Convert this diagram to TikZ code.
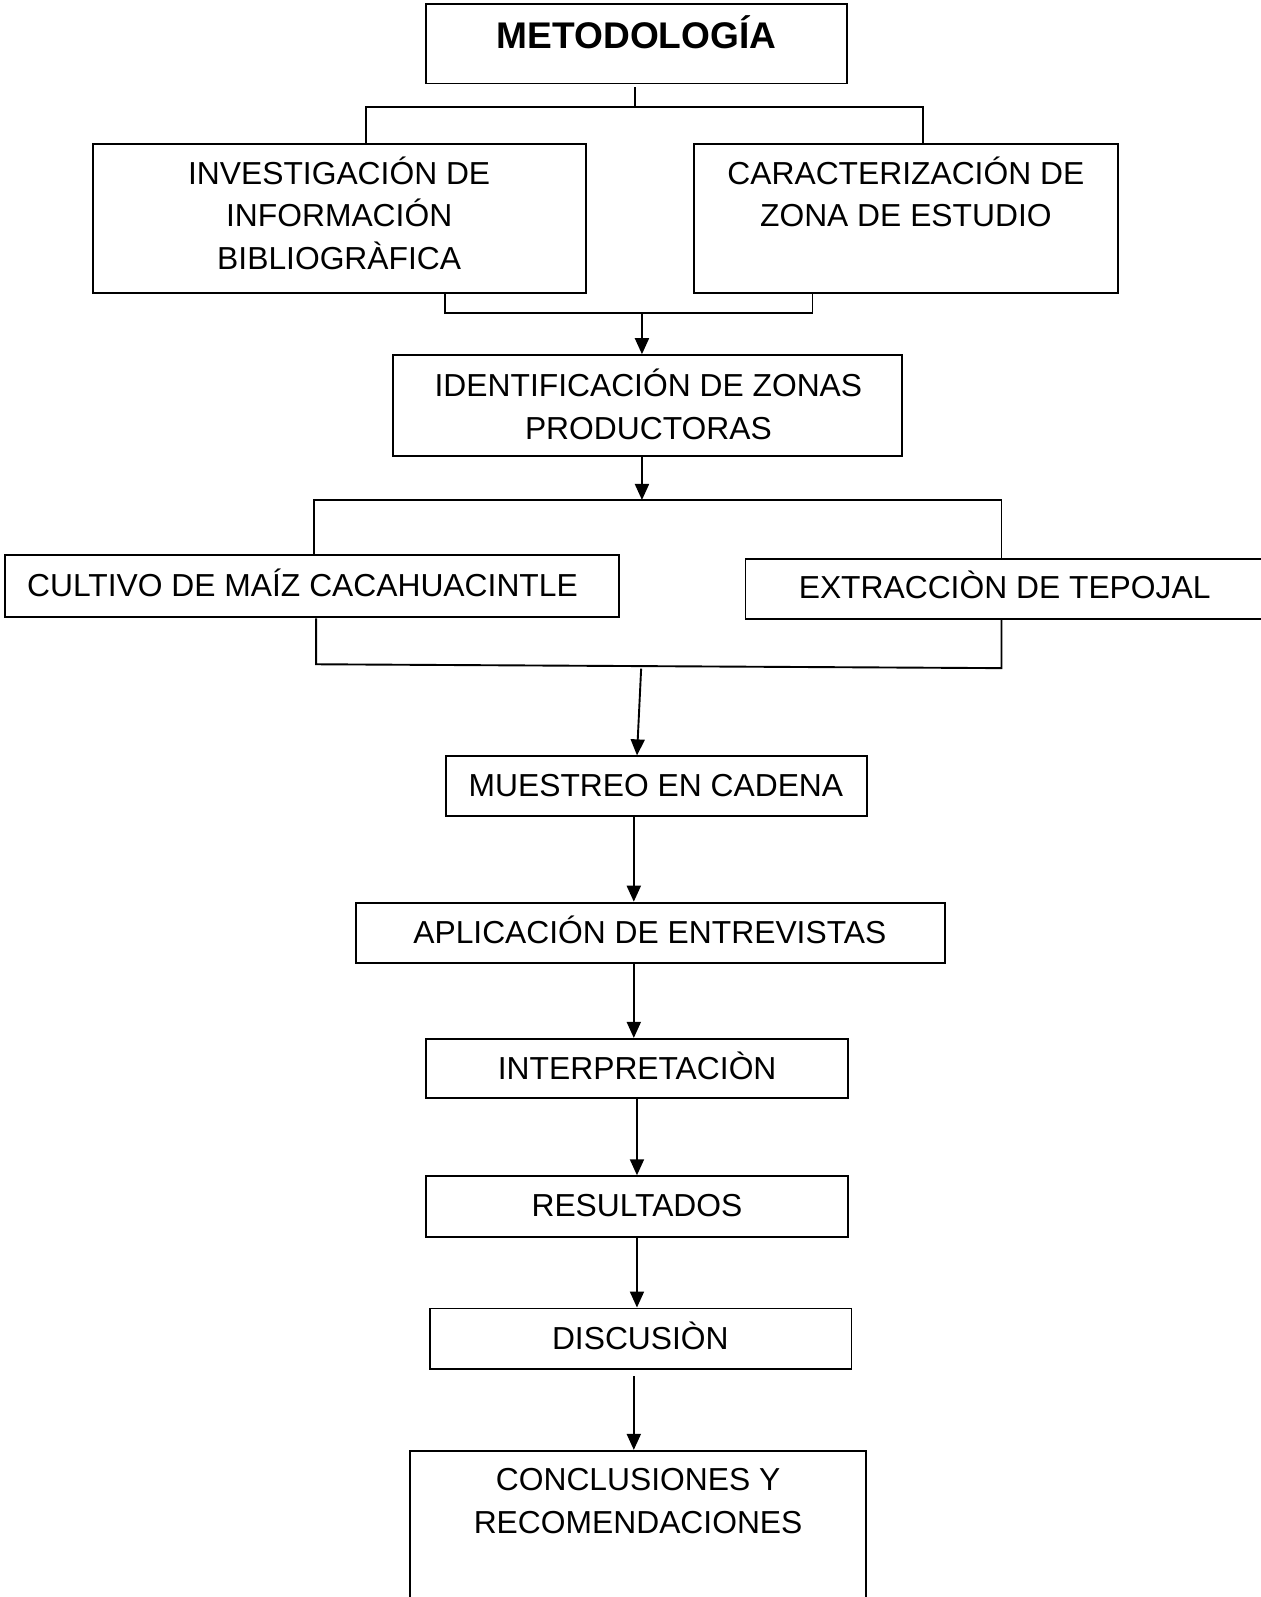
\documentclass[tikz,border=0pt]{standalone}
\usepackage{fontspec}
\setmainfont{Liberation Sans}
\usetikzlibrary{arrows.meta}
\begin{document}
\begin{tikzpicture}[x=1.0186pt, y=-1.0186pt,
  box/.style={draw, line width=1.9pt, rectangle, inner sep=0pt},
  sz/.style 2 args={minimum width=#1*1.0186pt, minimum height=#2*1.0186pt},
  txt/.style={inner sep=0pt, align=center, anchor=base, font=\fontsize{31.8pt}{42.6pt}\selectfont},
  ttl/.style={inner sep=0pt, anchor=base, font=\fontsize{37.1pt}{44pt}\selectfont\bfseries},
  conn/.style={line width=1.9pt},
  arr/.style={line width=1.9pt, -{Triangle[length=16pt,width=14pt]}}]
\useasboundingbox (0,0) rectangle (1238,1568);
% boxes
\node[box, sz={414}{78}] (met) at (625,43) {};
\node[box, sz={484}{147}] (inv) at (333,214.5) {};
\node[box, sz={417}{147}] (car) at (889.5,214.5) {};
\node[box, sz={500}{99}] (ide) at (636,398.2) {};
\node[box, sz={603}{61}] (cul) at (306.5,575.6) {};
\node[box, sz={509}{59.5}] (ext) at (986.5,578.25) {};
\node[box, sz={413}{59}] (mue) at (644.5,772.1) {};
\node[box, sz={578.5}{59.5}] (apl) at (638.5,916) {};
\node[box, sz={414}{58}] (int) at (625.4,1049) {};
\node[box, sz={414}{59.3}] (res) at (625.4,1184.5) {};
\node[box, sz={414}{59}] (dis) at (629,1314.2) {};
\node[box, sz={447.4}{146}] (con) at (626.5,1497.5) {};
% texts (anchor = baseline of the last line)
\node[ttl] (met-t) at (625,48) {METODOLOGÍA};
\node[txt] (inv-t) at (333,264.6) {INVESTIGACIÓN DE\\INFORMACIÓN\\BIBLIOGRÀFICA};
\node[txt] (car-t) at (889.4,222.8) {CARACTERIZACIÓN DE\\ZONA DE ESTUDIO};
\node[txt] (ide-t) at (636.6,431.3) {IDENTIFICACIÓN DE ZONAS\\PRODUCTORAS};
\node[txt] (cul-t) at (297,585.8) {CULTIVO DE MAÍZ CACAHUACINTLE};
\node[txt] (ext-t) at (986.4,588) {EXTRACCIÒN DE TEPOJAL};
\node[txt] (mue-t) at (644,782) {MUESTREO EN CADENA};
\node[txt] (apl-t) at (638,926) {APLICACIÓN DE ENTREVISTAS};
\node[txt] (int-t) at (625.6,1060.3) {INTERPRETACIÒN};
\node[txt] (res-t) at (625.4,1194.5) {RESULTADOS};
\node[txt] (dis-t) at (628.7,1324.7) {DISCUSIÒN};
\node[txt] (con-t) at (626.5,1505.3) {CONCLUSIONES Y\\RECOMENDACIONES};
% junction coordinates
\coordinate (t0) at (623.2,85.5);
\coordinate (t1) at (623.2,104.7);
\coordinate (t1l) at (359.4,104.7);
\coordinate (t1r) at (906,104.7);
\coordinate (b1l) at (436.8,307.6);
\coordinate (b1r) at (797.7,307.6);
\coordinate (b1m) at (630.3,307.6);
\coordinate (c1) at (630.3,490.9);
\coordinate (c1l) at (308,490.9);
\coordinate (c1r) at (983.3,490.9);
\coordinate (d1l) at (310.4,652.2);
\coordinate (d1r) at (983.3,656);
\coordinate (d1m) at (629.5,656.5);
\coordinate (e1) at (625.4,742);
\coordinate (g1) at (622.3,1351);
% connectors
\draw[conn] (t0) -- (t1);
\draw[conn] (inv.north -| t1l) -- (t1l) -- (t1r) -- (car.north -| t1r);
\draw[conn] (inv.south -| b1l) -- (b1l) -- (b1r) -- (car.south -| b1r);
\draw[arr] (b1m) -- (ide.north -| b1m);
\draw[arr] (ide.south -| c1) -- (c1);
\draw[conn] (cul.north -| c1l) -- (c1l) -- (c1r) -- (ext.north -| c1r);
\draw[conn] (cul.south -| d1l) -- (d1l) -- (d1r) -- (ext.south -| d1r);
\draw[arr] (d1m) -- (mue.north -| e1);
\draw[arr] (mue.south -| 622.3,0) -- (apl.north -| 622.3,0);
\draw[arr] (apl.south -| 622.3,0) -- (int.north -| 622.3,0);
\draw[arr] (int.south -| 625.4,0) -- (res.north -| 625.4,0);
\draw[arr] (res.south -| 625.4,0) -- (dis.north -| 625.4,0);
\draw[arr] (g1) -- (con.north -| g1);
\end{tikzpicture}
\end{document}
